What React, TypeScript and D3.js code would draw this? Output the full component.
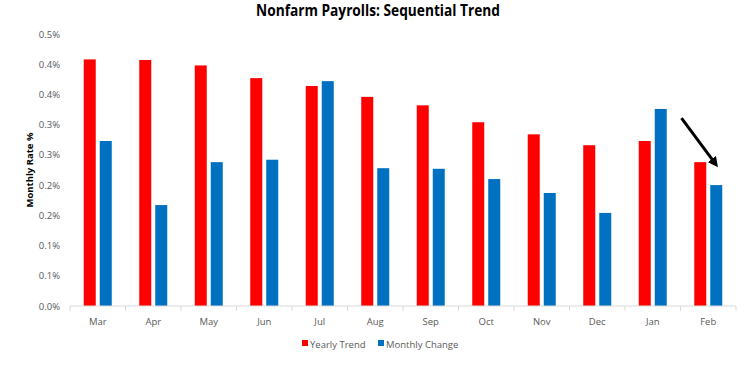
import React, { useEffect, useRef } from "react";
import * as d3 from "d3";

const months = ["Mar", "Apr", "May", "Jun", "Jul", "Aug", "Sep", "Oct", "Nov", "Dec", "Jan", "Feb"];
const yearlyTrend = [0.408, 0.407, 0.398, 0.377, 0.364, 0.346, 0.332, 0.304, 0.284, 0.266, 0.273, 0.238];
const monthlyChange = [0.273, 0.167, 0.238, 0.242, 0.372, 0.228, 0.227, 0.21, 0.187, 0.154, 0.326, 0.2];
const yTicks = [0, 0.05, 0.1, 0.15, 0.2, 0.25, 0.3, 0.35, 0.4, 0.45];

const redColor = "#ff0000";
const blueColor = "#0070c0";
const font = "'Open Sans', 'Liberation Sans', sans-serif";

const App: React.FC = () => {
    const svgRef = useRef<SVGSVGElement | null>(null);

    useEffect(() => {
        const svg = d3.select(svgRef.current);
        svg.selectAll("*").remove();

        const margin = { top: 34, right: 19, bottom: 61, left: 70 };
        const width = 755 - margin.left - margin.right;
        const height = 367 - margin.top - margin.bottom;
        const g = svg.append("g").attr("transform", `translate(${margin.left},${margin.top})`);

        const x = d3.scaleBand<string>().domain(months).range([0, width]);
        const y = d3.scaleLinear().domain([0, 0.45]).range([height, 0]);
        const barW = 12;
        const gap = 4;

        // y tick labels (Excel-rounded to one decimal)
        g.selectAll(".ylab")
            .data(yTicks)
            .enter()
            .append("text")
            .attr("x", -10)
            .attr("y", (d) => y(d))
            .attr("text-anchor", "end")
            .attr("dominant-baseline", "central")
            .style("font-family", font)
            .style("font-size", "9.5px")
            .style("fill", "#595959")
            .text((d) => (Math.round(d * 10 + 1e-9) / 10).toFixed(1) + "%");

        // bars
        const offset = (x.bandwidth() - (barW * 2 + gap)) / 2;
        g.selectAll(".red")
            .data(yearlyTrend)
            .enter()
            .append("rect")
            .attr("x", (_, i) => x(months[i])! + offset)
            .attr("y", (d) => y(d))
            .attr("width", barW)
            .attr("height", (d) => height - y(d))
            .attr("fill", redColor);
        g.selectAll(".blue")
            .data(monthlyChange)
            .enter()
            .append("rect")
            .attr("x", (_, i) => x(months[i])! + offset + barW + gap)
            .attr("y", (d) => y(d))
            .attr("width", barW)
            .attr("height", (d) => height - y(d))
            .attr("fill", blueColor);

        // x axis
        g.append("line")
            .attr("x1", 0).attr("x2", width)
            .attr("y1", height).attr("y2", height)
            .attr("stroke", "#d9d9d9");
        const bounds = months.map((m) => x(m)!).concat([width]);
        g.selectAll(".xtick")
            .data(bounds)
            .enter()
            .append("line")
            .attr("x1", (d) => d).attr("x2", (d) => d)
            .attr("y1", height).attr("y2", height + 5)
            .attr("stroke", "#d9d9d9");
        g.selectAll(".xlab")
            .data(months)
            .enter()
            .append("text")
            .attr("x", (d) => x(d)! + x.bandwidth() / 2)
            .attr("y", height + 15)
            .attr("text-anchor", "middle")
            .attr("dominant-baseline", "central")
            .style("font-family", font)
            .style("font-size", "9.5px")
            .style("fill", "#595959")
            .text((d) => d);

        // arrow annotation
        svg.append("defs").append("marker")
            .attr("id", "arrowhead")
            .attr("viewBox", "0 0 10 10")
            .attr("refX", 6).attr("refY", 5)
            .attr("markerWidth", 3.4).attr("markerHeight", 3.4)
            .attr("orient", "auto")
            .append("path")
            .attr("d", "M0,0 L10,5 L0,10 z")
            .attr("fill", "#000");
        const feb = x("Feb")!;
        g.append("line")
            .attr("x1", feb + 1)
            .attr("y1", y(0.311))
            .attr("x2", feb + 35)
            .attr("y2", y(0.235))
            .attr("stroke", "#000")
            .attr("stroke-width", 3)
            .attr("marker-end", "url(#arrowhead)");

        // title
        svg.append("text")
            .attr("x", 378).attr("y", 16)
            .attr("text-anchor", "middle")
            .attr("textLength", 244)
            .attr("lengthAdjust", "spacingAndGlyphs")
            .style("font-family", font)
            .style("font-size", "15.5px")
            .style("font-weight", "bold")
            .text("Nonfarm Payrolls: Sequential Trend");

        // y axis title
        svg.append("text")
            .attr("transform", `translate(33, ${margin.top + height / 2}) rotate(-90)`)
            .attr("text-anchor", "middle")
            .style("font-family", font)
            .style("font-size", "9.5px")
            .style("font-weight", "bold")
            .text("Monthly Rate %");

        // legend
        const legend = [
            { label: "Yearly Trend", color: redColor, x: 302 },
            { label: "Monthly Change", color: blueColor, x: 378 },
        ];
        legend.forEach((l) => {
            svg.append("rect").attr("x", l.x).attr("y", 340).attr("width", 6).attr("height", 6).attr("fill", l.color);
            svg.append("text")
                .attr("x", l.x + 8).attr("y", 344)
                .attr("dominant-baseline", "central")
                .style("font-family", font)
                .style("font-size", "9.5px")
                .style("fill", "#595959")
                .text(l.label);
        });
    }, []);

    return (
        <div style={{ position: "absolute", left: 0, top: 0 }}>
            <svg ref={svgRef} width={755} height={367} style={{ display: "block" }}></svg>
        </div>
    );
};

export default App;
